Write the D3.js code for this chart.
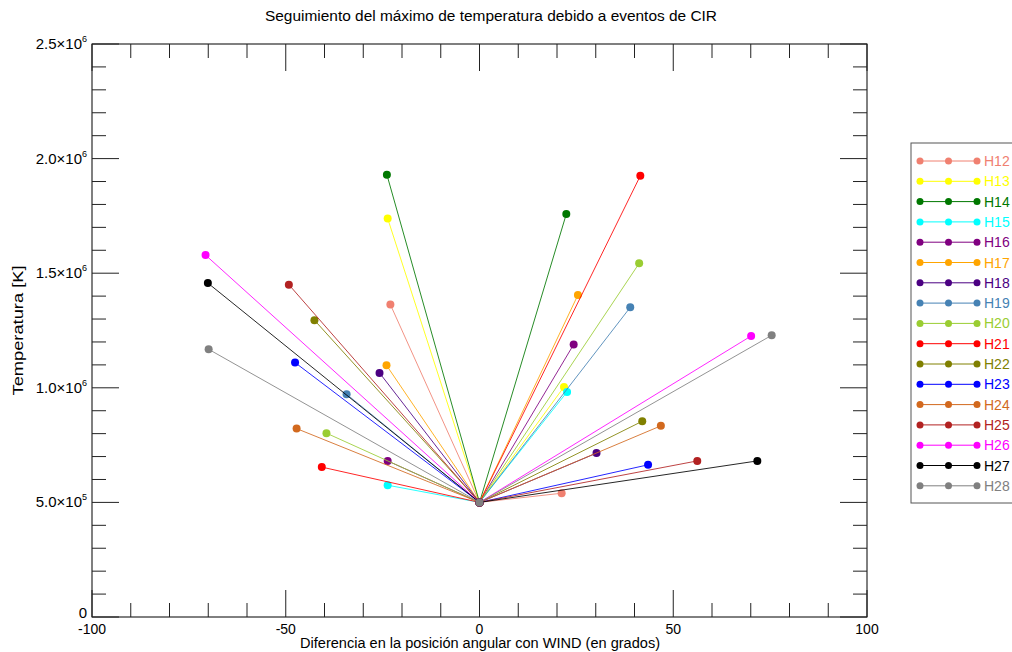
<!DOCTYPE html>
<html>
<head>
<meta charset="utf-8">
<script src="https://cdn.jsdelivr.net/npm/d3@7"></script>
<style>
  body { margin: 0; background: #fff; }
  svg { font-family: 'Liberation Sans', Arial, sans-serif; }
</style>
</head>
<body>
<div class="canvas"></div>
<script>
// series names and colours
const names = ['H12','H13','H14','H15','H16','H17','H18','H19','H20','H21','H22','H23','H24','H25','H26','H27','H28'];
const colors = ['#f08070','#ffff00','#007800','#00ffff','#800080','#ffa500','#4b0082','#4682b4','#9acd32','#ff0000','#808000','#0000ff','#d2691e','#b22222','#ff00ff','#000000','#808080'];

// left-hand end point (degrees, K)
const leftX = [-23.0,-23.7,-23.9,-23.7,-23.7,-24.0,-25.8,-34.3,-39.5,-40.7,-42.6,-47.6,-47.2,-49.2,-70.7,-70.1,-69.9];
const leftY = [1.363e6,1.739e6,1.930e6,0.575e6,0.681e6,1.098e6,1.065e6,0.972e6,0.802e6,0.654e6,1.295e6,1.110e6,0.822e6,1.450e6,1.579e6,1.457e6,1.168e6];
// common centre point
const centerX = 0;
const centerY = 5.0e5;
// right-hand end point
const rightX = [21.2,21.8,22.4,22.6,24.3,25.4,30.2,38.9,41.2,41.5,42.0,43.5,46.8,56.2,70.1,71.7,75.4];
const rightY = [0.540e6,1.004e6,1.758e6,0.982e6,1.189e6,1.405e6,0.715e6,1.351e6,1.543e6,1.925e6,0.854e6,0.664e6,0.834e6,0.681e6,1.226e6,0.681e6,1.229e6];

// axis ticks
const xMajor = [-100,-50,0,50,100];
const yMajor = [0,5e5,1e6,1.5e6,2e6,2.5e6];
const yLabels = ['0','5.0×10^5','1.0×10^6','1.5×10^6','2.0×10^6','2.5×10^6'];

const W = 1012, H = 652;
const m = {left: 92, right: 867, top: 44, bottom: 617};

const svg = d3.select('.canvas')
  .append('svg')
    .attr('width', W)
    .attr('height', H);

const x = d3.scaleLinear().domain([-100, 100]).range([m.left, m.right]);
const y = d3.scaleLinear().domain([0, 2.5e6]).range([m.bottom, m.top]);

const majLen = 27, minLen = 14;
const xMinor = d3.range(-100, 101, 10).filter(v => !xMajor.includes(v));
const yMinor = d3.range(0, 2.5e6 + 1, 1e5).filter(v => !yMajor.includes(v));

// frame
svg.append('rect')
  .attr('x', m.left).attr('y', m.top)
  .attr('width', m.right - m.left).attr('height', m.bottom - m.top)
  .attr('fill', 'none').attr('stroke', '#000').attr('stroke-width', 1);

// ticks on all four sides, pointing inward
const tickG = svg.append('g').attr('stroke', '#222').attr('stroke-width', 1);
const xt = xMajor.map(v => [v, majLen]).concat(xMinor.map(v => [v, minLen]));
xt.forEach(([v, l]) => {
  tickG.append('line').attr('x1', x(v)).attr('x2', x(v)).attr('y1', m.bottom).attr('y2', m.bottom - l);
  tickG.append('line').attr('x1', x(v)).attr('x2', x(v)).attr('y1', m.top).attr('y2', m.top + l);
});
const yt = yMajor.map(v => [v, majLen]).concat(yMinor.map(v => [v, minLen]));
yt.forEach(([v, l]) => {
  tickG.append('line').attr('y1', y(v)).attr('y2', y(v)).attr('x1', m.left).attr('x2', m.left + l);
  tickG.append('line').attr('y1', y(v)).attr('y2', y(v)).attr('x1', m.right).attr('x2', m.right - l);
});

// x tick labels
svg.selectAll('.xl')
  .data(xMajor)
  .enter()
  .append('text')
    .attr('x', d => x(d))
    .attr('y', m.bottom + 17)
    .attr('text-anchor', 'middle')
    .attr('font-size', '14px')
    .text(d => d);

// y tick labels with superscript
yMajor.forEach((v, i) => {
  const parts = yLabels[i].split('^');
  const t = svg.append('text')
    .attr('x', m.left - 5)
    .attr('y', v === 0 ? y(v) + 1 : y(v) + 5)
    .attr('text-anchor', 'end')
    .attr('font-size', '15px');
  t.append('tspan').text(parts[0]);
  if (parts[1]) {
    t.append('tspan').attr('dy', -7).attr('font-size', '9px').text(parts[1]);
  }
});

// titles
svg.append('text')
  .attr('x', 491).attr('y', 21)
  .attr('text-anchor', 'middle').attr('font-size', '14px')
  .attr('textLength', 452).attr('lengthAdjust', 'spacingAndGlyphs')
  .text('Seguimiento del máximo de temperatura debido a eventos de CIR');
svg.append('text')
  .attr('x', 480).attr('y', 648)
  .attr('text-anchor', 'middle').attr('font-size', '14px')
  .attr('textLength', 360).attr('lengthAdjust', 'spacingAndGlyphs')
  .text('Diferencia en la posición angular con WIND (en grados)');
svg.append('text')
  .attr('transform', `translate(23, ${(m.top + m.bottom) / 2}) rotate(-90)`)
  .attr('text-anchor', 'middle').attr('font-size', '14px')
  .attr('textLength', 130).attr('lengthAdjust', 'spacingAndGlyphs')
  .text('Temperatura [K]');

// series: left point -> centre -> right point
const series = names.map((n, i) => ({
  name: n,
  color: colors[i],
  pts: [[leftX[i], leftY[i]], [centerX, centerY], [rightX[i], rightY[i]]]
}));

const line = d3.line().x(d => x(d[0])).y(d => y(d[1]));

const groups = svg.selectAll('.series')
  .data(series)
  .enter()
  .append('g')
    .attr('class', 'series');

groups.append('path')
  .attr('d', d => line(d.pts))
  .attr('fill', 'none')
  .attr('stroke', d => d.color)
  .attr('stroke-opacity', 0.85)
  .attr('stroke-width', 1);

groups.selectAll('circle')
  .data(d => d.pts.map(p => ({p, c: d.color})))
  .enter()
  .append('circle')
    .attr('cx', d => x(d.p[0]))
    .attr('cy', d => y(d.p[1]))
    .attr('r', 4)
    .attr('fill', d => d.c);

// legend
const lg = svg.append('g');
const lgTop = 161, lgStep = 20.3;
lg.append('rect')
  .attr('x', 911).attr('y', 143)
  .attr('width', 110).attr('height', 360)
  .attr('fill', '#fff').attr('stroke', '#555').attr('stroke-width', 1);

series.forEach((s, i) => {
  const yy = lgTop + i * lgStep;
  lg.append('line')
    .attr('x1', 920).attr('x2', 977).attr('y1', yy).attr('y2', yy)
    .attr('stroke', s.color).attr('stroke-width', 1);
  [920, 948.5, 977].forEach(cx => {
    lg.append('circle').attr('cx', cx).attr('cy', yy).attr('r', 3.5).attr('fill', s.color);
  });
  lg.append('text')
    .attr('x', 984).attr('y', yy + 5)
    .attr('font-size', '14px')
    .attr('fill', s.color)
    .text(s.name);
});
</script>
</body>
</html>
